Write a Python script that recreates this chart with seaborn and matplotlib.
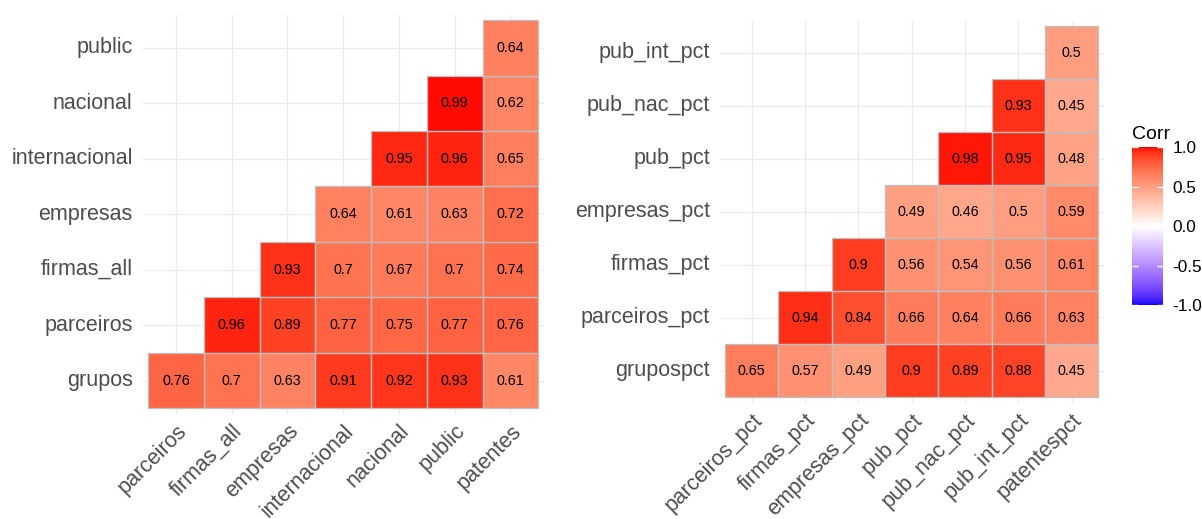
import numpy as np
import pandas as pd
import matplotlib
matplotlib.use("Agg")
import matplotlib.pyplot as plt
from matplotlib.colors import ListedColormap
import seaborn as sns

# ---- data: lower-triangle correlations (row variable vs. later columns) ----
left_vars = ["grupos", "parceiros", "firmas_all", "empresas",
             "internacional", "nacional", "public", "patentes"]
left_grupos = [0.76, 0.70, 0.63, 0.91, 0.92, 0.93, 0.61]
left_parceiros = [0.96, 0.89, 0.77, 0.75, 0.77, 0.76]
left_firmas_all = [0.93, 0.70, 0.67, 0.70, 0.74]
left_empresas = [0.64, 0.61, 0.63, 0.72]
left_internacional = [0.95, 0.96, 0.65]
left_nacional = [0.99, 0.62]
left_public = [0.64]

right_vars = ["grupospct", "parceiros_pct", "firmas_pct", "empresas_pct",
              "pub_pct", "pub_nac_pct", "pub_int_pct", "patentespct"]
right_grupospct = [0.65, 0.57, 0.49, 0.90, 0.89, 0.88, 0.45]
right_parceiros_pct = [0.94, 0.84, 0.66, 0.64, 0.66, 0.63]
right_firmas_pct = [0.90, 0.56, 0.54, 0.56, 0.61]
right_empresas_pct = [0.49, 0.46, 0.50, 0.59]
right_pub_pct = [0.98, 0.95, 0.48]
right_pub_nac_pct = [0.93, 0.45]
right_pub_int_pct = [0.50]

legend_ticks = [-1.0, -0.5, 0.0, 0.5, 1.0]


def tri_frame(names, rows):
    """Rows = all vars but the last (top row = last of them), columns = all but the first."""
    row_names = names[:-1][::-1]
    col_names = names[1:]
    df = pd.DataFrame(np.nan, index=row_names, columns=col_names)
    for i, vals in enumerate(rows):
        rname = names[i]
        for k, v in enumerate(vals):
            df.loc[rname, names[i + 1 + k]] = v
    return df


left_df = tri_frame(left_vars, [left_grupos, left_parceiros, left_firmas_all,
                                left_empresas, left_internacional, left_nacional,
                                left_public])
right_df = tri_frame(right_vars, [right_grupospct, right_parceiros_pct,
                                  right_firmas_pct, right_empresas_pct,
                                  right_pub_pct, right_pub_nac_pct,
                                  right_pub_int_pct])


# ---- blue-white-red diverging palette interpolated in CIELAB ----
def _srgb_to_lab(rgb):
    c = np.asarray(rgb, float)
    lin = np.where(c <= 0.04045, c / 12.92, ((c + 0.055) / 1.055) ** 2.4)
    M = np.array([[0.4124564, 0.3575761, 0.1804375],
                  [0.2126729, 0.7151522, 0.0721750],
                  [0.0193339, 0.1191920, 0.9503041]])
    xyz = M @ lin / np.array([0.95047, 1.0, 1.08883])
    d = 6 / 29
    f = np.where(xyz > d ** 3, np.cbrt(xyz), xyz / (3 * d * d) + 4 / 29)
    return np.array([116 * f[1] - 16, 500 * (f[0] - f[1]), 200 * (f[1] - f[2])])


def _lab_to_srgb(lab):
    L, a, b = lab
    fy = (L + 16) / 116
    fx = fy + a / 500
    fz = fy - b / 200
    d = 6 / 29
    finv = lambda t: t ** 3 if t > d else 3 * d * d * (t - 4 / 29)
    xyz = np.array([finv(fx), finv(fy), finv(fz)]) * np.array([0.95047, 1.0, 1.08883])
    Minv = np.array([[3.2404542, -1.5371385, -0.4985314],
                     [-0.9692660, 1.8760108, 0.0415560],
                     [0.0556434, -0.2040259, 1.0572252]])
    lin = np.clip(Minv @ xyz, 0, 1)
    srgb = np.where(lin <= 0.0031308, 12.92 * lin, 1.055 * lin ** (1 / 2.4) - 0.055)
    return np.clip(srgb, 0, 1)


lab_low = _srgb_to_lab([0, 0, 1])
lab_mid = _srgb_to_lab([1, 1, 1])
lab_high = _srgb_to_lab([1, 0, 0])
colors = []
for t in np.linspace(0, 1, 512):
    if t < 0.5:
        s = t / 0.5
        lab = lab_low + (lab_mid - lab_low) * s
    else:
        s = (t - 0.5) / 0.5
        lab = lab_mid + (lab_high - lab_mid) * s
    colors.append(_lab_to_srgb(lab))
corr_cmap = ListedColormap(colors)
corr_cmap.set_bad((0, 0, 0, 0))

# ---- figure ----
plt.rcParams["font.family"] = ["Liberation Sans", "DejaVu Sans"]
fig = plt.figure(figsize=(12.02, 5.19), dpi=100)

W, H = 1202, 519


def px_axes(x0, y0, x1, y1):
    return fig.add_axes([x0 / W, 1 - y1 / H, (x1 - x0) / W, (y1 - y0) / H])


ax_l = px_axes(142.5, 14.5, 543.9, 413.8)
ax_r = px_axes(719.7, 20.7, 1103.6, 402.6)
cax = px_axes(1132, 147.2, 1163, 305.2)


def draw(ax, df, show_cbar):
    labels = df.map(lambda v: "" if np.isnan(v) else f"{v:g}").values
    sns.heatmap(df, ax=ax, mask=df.isna(), cmap=corr_cmap, vmin=-1, vmax=1,
                annot=labels, fmt="", annot_kws={"size": 10.3, "color": "black"},
                linewidths=0, cbar=show_cbar, cbar_ax=cax if show_cbar else None)
    # gray outlines around the filled cells
    nr, nc = df.shape
    for r in range(nr):
        for c in range(nc):
            if not np.isnan(df.iat[r, c]):
                ax.add_patch(plt.Rectangle((c, r), 1, 1, fill=False,
                                           edgecolor="#BEBEBE", lw=0.9, zorder=3))
    ax.set_xlim(-0.1, nc + 0.1)
    ax.set_ylim(nr + 0.1, -0.1)
    ax.set_xlabel("")
    ax.set_ylabel("")
    ax.grid(True, color="#EBEBEB", lw=1.0)
    ax.set_axisbelow(True)
    for s in ax.spines.values():
        s.set_visible(False)
    ax.tick_params(axis="both", length=0, colors="#4D4D4D", labelsize=15.5)
    ax.tick_params(axis="y", pad=7, labelrotation=0)
    ax.tick_params(axis="x", pad=5)
    for t in ax.get_xticklabels():
        t.set_rotation(45)
        t.set_ha("right")
        t.set_va("top")
        t.set_rotation_mode("anchor")
    for t in ax.texts:
        t.set_fontsize(10.3)
        t.set_color("black")


draw(ax_l, left_df, False)
draw(ax_r, right_df, True)

# colorbar styling
cax.set_yticks(legend_ticks)
cax.set_yticklabels([f"{v:.1f}" for v in legend_ticks])
cax.tick_params(axis="y", direction="in", length=4.5, width=1, color="white",
                left=True, right=True, labelleft=False, labelright=True,
                labelsize=12.4, labelcolor="black", pad=7)
for s in cax.spines.values():
    s.set_visible(False)
cax.set_title("Corr", loc="left", fontsize=14, pad=6, color="black")

fig.savefig("out.png", dpi=100, facecolor="white")
